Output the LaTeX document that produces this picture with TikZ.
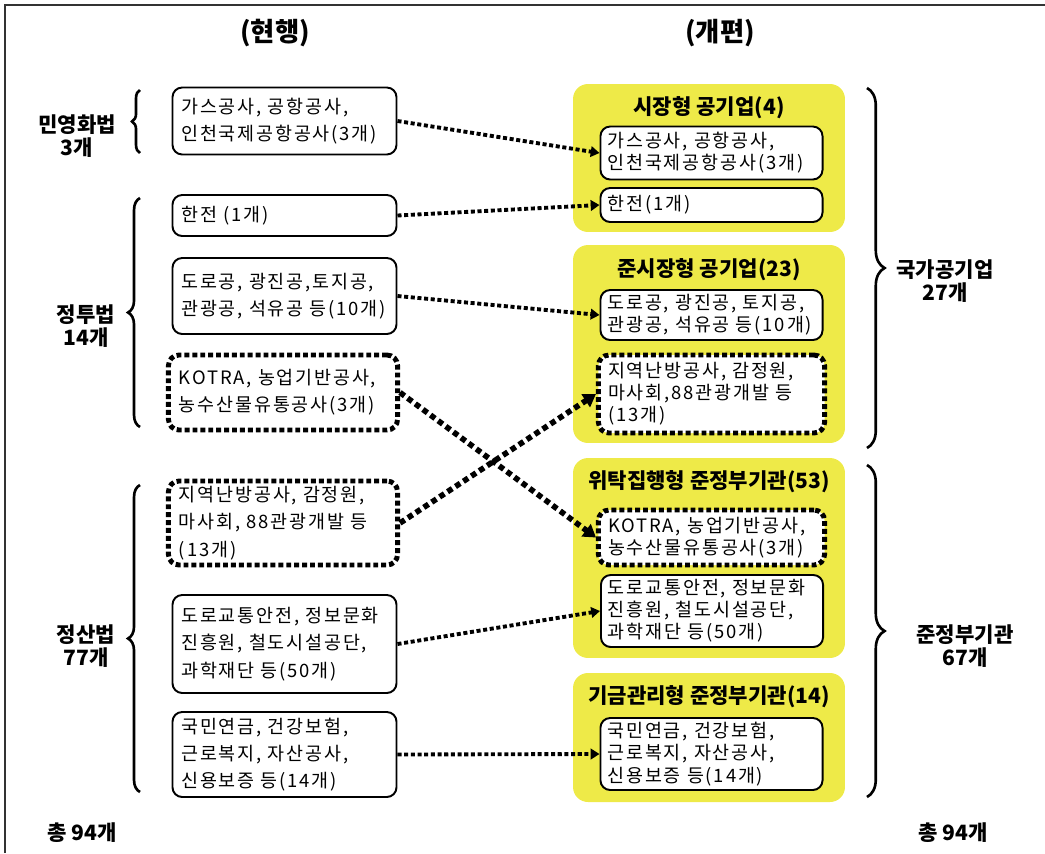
\documentclass[tikz,border=0pt]{standalone}
\usepackage{fontspec}
\setmainfont{Noto Sans CJK KR}
\newfontfamily\entryfont[LetterSpace=10]{Noto Sans CJK KR}
\usetikzlibrary{arrows.meta,decorations.pathreplacing}
\definecolor{grpyellow}{RGB}{238,234,72}
\begin{document}
\begin{tikzpicture}[x=0.02cm,y=-0.02cm,
  body/.style={font=\entryfont\fontsize{10.5}{15.5}\selectfont},
  bodyr/.style={font=\entryfont\fontsize{10.5}{12.6}\selectfont},
  entry/.style={body, draw, line width=1.1pt, rounded corners=5.5pt, fill=white,
    align=left, inner xsep=5pt, inner ysep=0pt, text width=117.5pt},
  entryr/.style={entry, bodyr, inner xsep=4pt, text width=118.4pt},
  hot/.style={body, draw, line width=2.8pt, dash pattern=on 2.8pt off 1.7pt,
    rounded corners=6pt, fill=white, align=left, inner xsep=6pt, inner ysep=0pt,
    text width=118.4pt},
  hotr/.style={hot, bodyr, inner xsep=5.5pt, text width=117.7pt},
  grp/.style={fill=grpyellow, rounded corners=8.5pt, inner sep=0pt},
  grptitle/.style={font=\bfseries\fontsize{12}{14}\selectfont, inner sep=0pt},
  head/.style={font=\bfseries\fontsize{15}{18}\selectfont, inner sep=0pt},
  lawlabel/.style={font=\bfseries\fontsize{12}{13.5}\selectfont, align=center, inner sep=0pt},
  curly/.style={decorate, line width=1.5pt},
  link/.style={line width=2.2pt, dash pattern=on 2.3pt off 1.5pt,
    -{Triangle[length=5pt,width=6pt]}},
  hotlink/.style={line width=3.2pt, dash pattern=on 3.2pt off 2.2pt,
    -{Triangle[length=7pt,width=8.5pt]}}
]
\useasboundingbox (0,0) rectangle (1045,853);

% frame
\draw[line width=1.2pt, black!80] (5,853) -- (5,5) -- (1045,5);

% column headings
\node[head] (hcur) at (275,33) {(현행)};
\node[head] (hnew) at (720,33) {(개편)};

% current laws: left column
\node[lawlabel] (lawA) at (77,136) {민영화법\\3개};
\node[lawlabel] (lawB) at (86,326) {정투법\\14개};
\node[lawlabel] (lawC) at (86,646) {정산법\\77개};
\node[lawlabel] (totL) at (82,833) {총 94개};

\draw[curly, decoration={brace, amplitude=4.5pt}] (140,153) -- (140,90);
\draw[curly, decoration={brace, amplitude=6.8pt}] (140,427) -- (140,198);
\draw[curly, decoration={brace, amplitude=6.8pt}] (140,792) -- (140,485);

\node[entry, minimum height=1.34cm] (L1) at (284.5,121) {가스공사,~공항공사,\\인천국제공항공사(3개)};
\node[entry, minimum height=0.82cm] (L2) at (284.5,215.5) {한전~(1개)};
\node[entry, minimum height=1.52cm] (L3) at (284.5,296) {도로공,~광진공,토지공,\\관광공,~석유공~등(10개)};
\node[hot, minimum height=1.5cm] (L4) at (283,392.5) {KOTRA,~농업기반공사,\\농수산물유통공사(3개)};
\node[hot, minimum height=1.68cm] (L5) at (283,523) {지역난방공사,~감정원,\\마사회,~88관광개발~등\\(13개)};
\node[entry, minimum height=1.96cm] (L6) at (284.5,644) {도로교통안전,~정보문화\\진흥원,~철도시설공단,\\과학재단~등(50개)};
\node[entry, minimum height=1.7cm] (L7) at (284.5,754.5) {국민연금,~건강보험,\\근로복지,~자산공사,\\신용보증~등(14개)};

% reorganised groups: right column
\node[grp, minimum width=5.44cm, minimum height=2.96cm] (GA) at (709,158) {};
\node[grp, minimum width=5.44cm, minimum height=3.96cm] (GB) at (709,344) {};
\node[grp, minimum width=5.44cm, minimum height=4.0cm] (GC) at (709,558) {};
\node[grp, minimum width=5.44cm, minimum height=2.58cm] (GD) at (709,737.5) {};

\node[grptitle] (TA) at (709,108) {시장형 공기업(4)};
\node[grptitle] (TB) at (709,270) {준시장형 공기업(23)};
\node[grptitle] (TC) at (709,482) {위탁집행형 준정부기관(53)};
\node[grptitle] (TD) at (709,697) {기금관리형 준정부기관(14)};

\node[entryr, minimum height=1.06cm] (A1) at (711.5,153) {가스공사,~공항공사,\\인천국제공항공사(3개)};
\node[entryr, minimum height=0.68cm] (A2) at (711.5,205) {한전(1개)};
\node[entryr, minimum height=1.0cm] (B1) at (711.5,315) {도로공,~광진공,~토지공,\\관광공,~석유공~등(10개)};
\node[hotr, minimum height=1.56cm] (B2) at (711.5,394) {지역난방공사,~감정원,\\마사회,88관광개발~등\\(13개)};
\node[hotr, minimum height=1.1cm] (C1) at (711.5,537.5) {KOTRA,~농업기반공사,\\농수산물유통공사(3개)};
\node[entryr, minimum height=1.44cm] (C2) at (712,611) {도로교통안전,~정보문화\\진흥원,~철도시설공단,\\과학재단~등(50개)};
\node[entryr, minimum height=1.44cm] (D1) at (711.5,754) {국민연금,~건강보험,\\근로복지,~자산공사,\\신용보증~등(14개)};

% totals: right side
\draw[curly, decoration={brace, amplitude=10pt}] (867,88) -- (867,448);
\draw[curly, decoration={brace, amplitude=10pt}] (867,465) -- (867,797);
\node[lawlabel] (natA) at (945,281) {국가공기업\\27개};
\node[lawlabel] (natB) at (965,646) {준정부기관\\67개};
\node[lawlabel] (totR) at (953,833) {총 94개};

% transitions
\draw[link] (L1.east) -- (A1.west);
\draw[link] (L2.east) -- (A2.west);
\draw[link] (L3.east) -- (B1.west);
\draw[hotlink] (L4.east) -- (C1.west);
\draw[hotlink] (L5.east) -- (B2.west);
\draw[link] (L6.east) -- (C2.west);
\draw[link] (L7.east) -- (D1.west);
\end{tikzpicture}
\end{document}
